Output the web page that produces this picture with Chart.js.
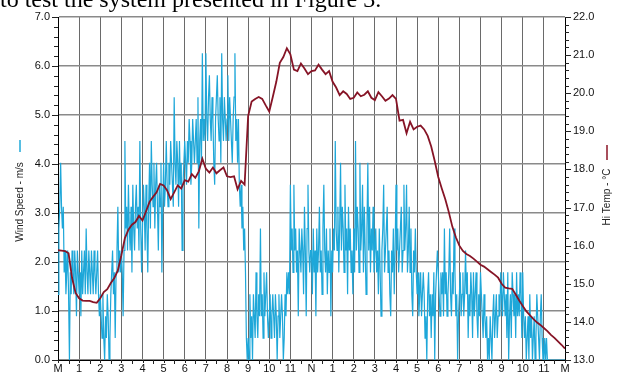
<!DOCTYPE html>
<html>
<head>
<meta charset="utf-8">
<script src="https://cdn.jsdelivr.net/npm/chart.js@4.4.1/dist/chart.umd.min.js"></script>
<style>
  html, body { margin: 0; padding: 0; background: #fff; }
  #wrap { position: relative; width: 620px; height: 376px; overflow: hidden; }
  #caption { position: absolute; left: 0; top: -14px; font-family: "Liberation Serif", "Times New Roman", serif; font-size: 24px; color: #000; white-space: nowrap; }
  #myChart { position: absolute; left: 0; top: 0; }
</style>
</head>
<body>
<div id="wrap">
  <canvas id="myChart" width="620" height="376"></canvas>
  <div id="caption">to test the system presented in Figure 3.</div>
</div>
<script>
// wind speed, logged in whole mph every 2.5 minutes (one row per hour, M .. M)
var windMph = [
  3, 6, 7, 9, 7, 6, 7, 4, 5, 3, 4, 5, 3, 0, 4, 3, 5, 4, 3, 5, 4, 2, 5, 4,
  3, 4, 2, 5, 3, 4, 5, 3, 6, 4, 3, 5, 4, 3, 5, 4, 3, 5, 4, 3, 4, 5, 3, 2,
  3, 2, 1, 3, 1, 0, 2, 1, 3, 2, 0, 1, 3, 4, 5, 3, 4, 1, 4, 5, 7, 4, 5, 4,
  5, 4, 2, 5, 10, 6, 7, 5, 8, 6, 5, 7, 4, 8, 6, 5, 7, 8, 6, 7, 5, 10, 6, 4,
  6, 8, 7, 5, 8, 6, 4, 7, 9, 6, 10, 8, 7, 9, 6, 8, 9, 7, 5, 8, 7, 9, 4, 7,
  9, 7, 8, 10, 8, 7, 9, 8, 10, 9, 8, 7, 12, 9, 8, 10, 9, 7, 10, 8, 9, 5, 8, 9,
  10, 9, 8, 10, 9, 11, 10, 8, 9, 11, 10, 9, 10, 11, 9, 12, 6, 10, 11, 9, 14, 10, 11, 10,
  14, 11, 10, 12, 13, 11, 10, 12, 11, 9, 8, 11, 12, 13, 11, 10, 12, 9, 14, 11, 10, 12, 11, 10,
  11, 13, 10, 12, 11, 10, 9, 11, 12, 14, 10, 11, 9, 11, 8, 7, 8, 6, 7, 5, 6, 4, 1, 0,
  1, 0, 3, 1, 2, 0, 3, 2, 1, 4, 2, 1, 3, 2, 6, 2, 3, 1, 4, 2, 3, 4, 2, 1,
  2, 3, 1, 2, 3, 2, 1, 3, 2, 0, 2, 3, 1, 2, 3, 2, 0, 1, 3, 2, 4, 3, 4, 3,
  8, 5, 6, 4, 8, 5, 6, 4, 5, 2, 6, 5, 4, 6, 5, 3, 7, 5, 2, 6, 8, 5, 4, 5,
  5, 3, 6, 4, 5, 2, 6, 4, 5, 7, 4, 5, 3, 6, 8, 5, 4, 6, 3, 5, 4, 6, 2, 5,
  4, 6, 5, 10, 6, 5, 7, 4, 6, 9, 5, 7, 6, 4, 8, 5, 6, 3, 7, 5, 6, 4, 5, 3,
  6, 4, 10, 5, 7, 6, 4, 9, 5, 6, 8, 4, 7, 5, 3, 6, 9, 5, 7, 4, 6, 5, 7, 4,
  5, 6, 4, 5, 3, 6, 4, 2, 5, 6, 8, 4, 5, 6, 7, 4, 5, 3, 2, 5, 4, 6, 3, 5,
  8, 5, 6, 4, 5, 6, 7, 4, 5, 8, 5, 6, 8, 4, 5, 7, 4, 6, 3, 2, 5, 4, 6, 4,
  3, 4, 2, 3, 4, 2, 3, 4, 3, 1, 2, 0, 3, 4, 2, 3, 1, 3, 2, 4, 0, 3, 4, 5,
  4, 3, 2, 4, 3, 4, 2, 6, 3, 4, 2, 3, 4, 6, 3, 2, 4, 3, 6, 4, 2, 3, 0, 2,
  3, 4, 2, 3, 4, 2, 3, 5, 3, 4, 1, 3, 2, 4, 3, 1, 4, 2, 3, 4, 2, 1, 3, 2,
  4, 3, 2, 1, 3, 2, 1, 2, 0, 1, 0, 2, 1, 0, 2, 3, 1, 2, 3, 1, 2, 3, 2, 4,
  3, 2, 4, 3, 2, 3, 1, 4, 0, 2, 3, 1, 4, 3, 2, 3, 1, 4, 2, 3, 2, 4, 3, 1,
  4, 2, 1, 2, 0, 1, 2, 0, 3, 1, 2, 0, 1, 2, 0, 1, 3, 2, 1, 0, 2, 3, 1, 0,
  0, 1, 0, 1, 0, 0, 0, 0, 0, 0, 0, 0, 0, 0, 0, 0, 0, 0, 0, 0, 0, 0, 0, 0,
  0
];

// hi temp in degC every 10 minutes
var hiTemp = [
  15.88, 15.87, 15.86, 15.80, 15.15, 14.76,
  14.62, 14.56, 14.55, 14.55, 14.52, 14.50,
  14.62, 14.78, 14.86, 15.02, 15.15, 15.35,
  15.75, 16.20, 16.42, 16.55, 16.62, 16.78,
  16.66, 16.90, 17.15, 17.28, 17.40, 17.62,
  17.58, 17.45, 17.22, 17.40, 17.58, 17.50,
  17.72, 17.68, 17.88, 17.78, 17.95, 18.28,
  18.02, 17.92, 18.05, 17.90, 17.98, 18.05,
  17.82, 17.80, 17.82, 17.48, 17.70, 17.60,
  19.40, 19.78, 19.85, 19.90, 19.85, 19.68,
  19.52, 19.90, 20.30, 20.80, 20.95, 21.18,
  21.02, 20.62, 20.58, 20.78, 20.65, 20.50,
  20.58, 20.60, 20.75, 20.62, 20.50, 20.58,
  20.30, 20.15, 19.95, 20.05, 19.98, 19.85,
  19.88, 20.02, 19.92, 19.96, 20.05, 19.88,
  19.82, 20.03, 19.92, 19.80, 19.86, 19.95,
  19.85, 19.28, 19.30, 18.95, 19.25, 19.05,
  19.12, 19.15, 19.05, 18.88, 18.60, 18.22,
  17.80, 17.50, 17.22, 16.88, 16.50, 16.22,
  16.00, 15.86, 15.78, 15.73, 15.66, 15.58,
  15.50, 15.45, 15.38, 15.31, 15.24, 15.16,
  15.00, 14.90, 14.88, 14.87, 14.72, 14.56,
  14.42, 14.28, 14.18, 14.08, 13.99, 13.92,
  13.84, 13.76, 13.66, 13.58, 13.49, 13.40,
  13.30
];

var hourLabels = ['M', '1', '2', '3', '4', '5', '6', '7', '8', '9', '10', '11',
                  'N', '1', '2', '3', '4', '5', '6', '7', '8', '9', '10', '11', 'M'];

var MPH_TO_MS = 0.44704;

var windPoints = windMph.map(function (v, i) { return { x: i / 24, y: v * MPH_TO_MS }; });
var tempPoints = hiTemp.map(function (v, i) { return { x: i / 6, y: v }; });

var axisFont = { family: 'Arial, "Liberation Sans", sans-serif', size: 11 };

// small tick marks and the two axis titles with their colour keys
var axisDecor = {
    id: 'axisDecor',
    afterDraw: function (chart) {
        var ctx = chart.ctx;
        var a = chart.chartArea;
        var sx = chart.scales.x, sy = chart.scales.y, sy1 = chart.scales.y1;
        ctx.save();
        ctx.strokeStyle = '#222';
        ctx.lineWidth = 1;
        ctx.beginPath();
        for (var i = 0; i <= 35; i++) {
            var py = Math.round(sy.getPixelForValue(i / 5)) + 0.5;
            ctx.moveTo(a.left - (i % 5 === 0 ? 6 : 4), py);
            ctx.lineTo(a.left, py);
        }
        for (var j = 0; j <= 45; j++) {
            var py1 = Math.round(sy1.getPixelForValue(13 + j / 5)) + 0.5;
            ctx.moveTo(a.right, py1);
            ctx.lineTo(a.right + (j % 5 === 0 ? 6 : 4), py1);
        }
        for (var k = 0; k <= 48; k++) {
            var px = Math.round(sx.getPixelForValue(k / 2)) + 0.5;
            ctx.moveTo(px, a.bottom);
            ctx.lineTo(px, a.bottom + (k % 2 === 0 ? 3 : 4));
        }
        ctx.stroke();

        ctx.font = '10px Arial, "Liberation Sans", sans-serif';
        ctx.fillStyle = '#222';
        ctx.textAlign = 'center';
        ctx.textBaseline = 'middle';

        ctx.save();
        ctx.translate(20, 202);
        ctx.rotate(-Math.PI / 2);
        ctx.fillText('Wind Speed - m/s', 0, 0);
        ctx.restore();

        ctx.save();
        ctx.translate(607, 197);
        ctx.rotate(-Math.PI / 2);
        ctx.fillText('Hi Temp - °C', 0, 0);
        ctx.restore();

        ctx.lineWidth = 1.5;
        ctx.strokeStyle = '#1fa8d8';
        ctx.beginPath();
        ctx.moveTo(20, 140);
        ctx.lineTo(20, 152);
        ctx.stroke();
        ctx.strokeStyle = '#8b1526';
        ctx.beginPath();
        ctx.moveTo(607, 145);
        ctx.lineTo(607, 160);
        ctx.stroke();
        ctx.restore();
    }
};

document.addEventListener('DOMContentLoaded', function () {
    var ctx = document.getElementById('myChart').getContext('2d');
    new Chart(ctx, {
        type: 'line',
        data: {
            datasets: [
                {
                    label: 'Hi Temp - °C',
                    data: tempPoints,
                    yAxisID: 'y1',
                    borderColor: '#861426',
                    borderWidth: 1.8,
                    pointRadius: 0,
                    tension: 0,
                    order: 0
                },
                {
                    label: 'Wind Speed - m/s',
                    data: windPoints,
                    yAxisID: 'y',
                    borderColor: '#1ea7d9',
                    borderWidth: 1.2,
                    pointRadius: 0,
                    tension: 0,
                    order: 1
                }
            ]
        },
        options: {
            responsive: false,
            animation: false,
            events: [],
            layout: { padding: { top: 17, left: 0, right: 0, bottom: 0 } },
            plugins: { legend: { display: false }, tooltip: { enabled: false } },
            scales: {
                x: {
                    type: 'linear',
                    min: 0,
                    max: 24,
                    afterFit: function (s) { s.height = 16; },
                    ticks: {
                        stepSize: 1,
                        autoSkip: false,
                        maxRotation: 0,
                        padding: 2,
                        color: '#111',
                        font: axisFont,
                        callback: function (v) { return hourLabels[v]; }
                    },
                    grid: { color: '#6a6a6a', lineWidth: 1, drawTicks: false },
                    border: { color: '#000', width: 1 }
                },
                y: {
                    position: 'left',
                    min: 0,
                    max: 7,
                    afterFit: function (s) { s.width = 58; },
                    ticks: {
                        stepSize: 1,
                        padding: 8,
                        color: '#111',
                        font: axisFont,
                        callback: function (v) { return v.toFixed(1); }
                    },
                    grid: { color: '#8a8a8a', lineWidth: 1.5, drawTicks: false },
                    border: { color: '#000', width: 1 }
                },
                y1: {
                    position: 'right',
                    min: 13,
                    max: 22,
                    afterFit: function (s) { s.width = 55; },
                    ticks: {
                        stepSize: 1,
                        padding: 8,
                        color: '#111',
                        font: axisFont,
                        callback: function (v) { return v.toFixed(1); }
                    },
                    grid: { drawOnChartArea: false, drawTicks: false },
                    border: { color: '#000', width: 1 }
                }
            }
        },
        plugins: [axisDecor]
    });
});
</script>
</body>
</html>
